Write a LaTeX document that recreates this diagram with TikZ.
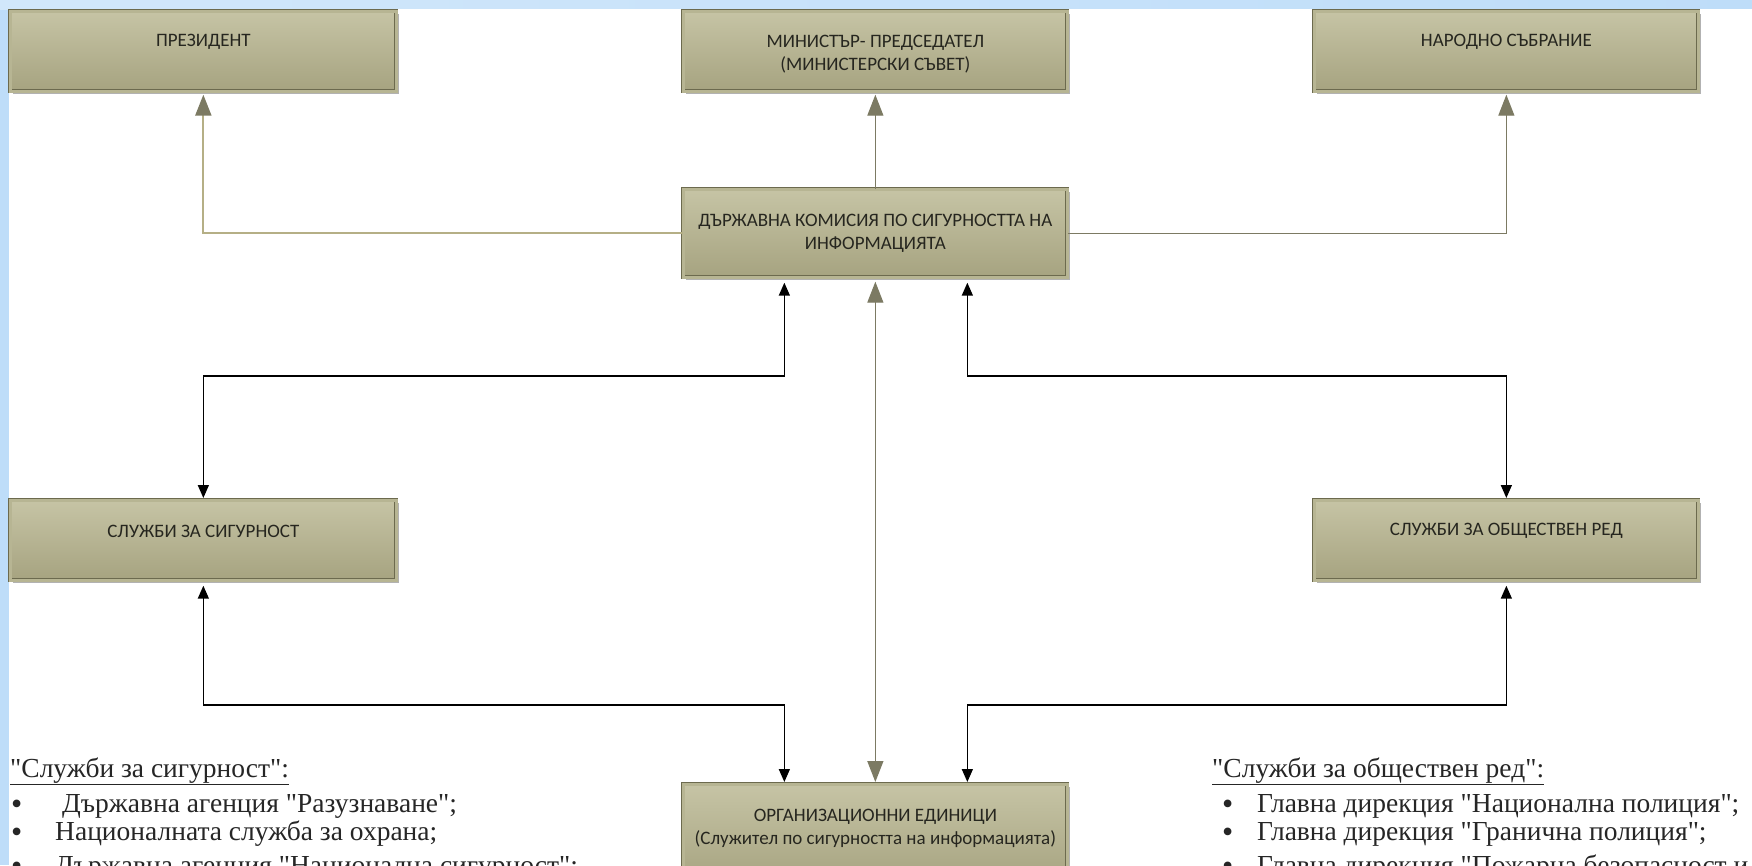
\documentclass[tikz,border=0pt]{standalone}
\usepackage{fontspec}
\setmainfont{Liberation Serif}[Ligatures=TeXOff]
\newfontfamily\boxfont{Carlito}
\usetikzlibrary{arrows.meta,shadows}

\definecolor{bluebg}{HTML}{BEDDF9}
\definecolor{olivetop}{HTML}{C6C4A5}
\definecolor{olivebot}{HTML}{A6A380}
\definecolor{oliveline}{HTML}{6C6A4E}
\definecolor{olivemid}{HTML}{B7B593}
\definecolor{graylink}{HTML}{7C7A63}
\definecolor{tanlink}{HTML}{B5AF86}
\definecolor{boxtextcol}{HTML}{26261F}

\begin{document}
\begin{tikzpicture}[x=1pt,y=-1pt,
  orgbox/.style={rectangle, anchor=north west, inner sep=0pt,
    minimum width=384pt, minimum height=80pt,
    top color=olivetop, bottom color=olivebot,
    draw=oliveline, line width=0.7pt, double=olivemid, double distance=2.4pt,
    drop shadow={shadow xshift=3pt, shadow yshift=-3pt, fill=black, opacity=0.3}},
  boxtext/.style={inner sep=0pt, align=center, text=boxtextcol,
    font=\boxfont\fontsize{19}{23}\selectfont},
  listtext/.style={inner sep=0pt, anchor=base west, text=black!85,
    font=\fontsize{27.5}{30}\selectfont},
  bullet/.style={inner sep=0pt, anchor=base west, text=black!85,
    text height=12pt, text depth=0pt, font=\fontsize{32}{30}\selectfont},
  graylnk/.style={draw=graylink, line width=1.3pt},
  grayhead/.style={-{Triangle[length=21pt,width=16pt,color=graylink]}},
  blacklnk/.style={draw=black, line width=1.5pt,
    {Triangle[length=13pt,width=11pt]}-{Triangle[length=13pt,width=11pt]}},
]
\useasboundingbox (0,0) rectangle (1752,865);
\clip (0,0) rectangle (1752,865);

% background
\fill[bluebg] (0,0) rectangle (1752,865);
\shade[left color=bluebg!70!white, right color=bluebg] (0,0) rectangle (1752,9);
\fill[white] (9,9) rectangle (1752,865);

% boxes
\node[orgbox, minimum width=386pt] (pres) at (10,11) {};
\node[orgbox] (pm) at (683,11) {};
\node[orgbox] (ns) at (1314,11) {};
\node[orgbox, minimum height=88pt] (dksi) at (683,189) {};
\node[orgbox, minimum width=386pt] (ss) at (10,500) {};
\node[orgbox] (so) at (1314,500) {};
\node[orgbox, minimum height=100pt] (org) at (683,784) {};

% box texts
\node[boxtext, yshift=-31pt] (presT) at (pres.north) {ПРЕЗИДЕНТ};
\node[boxtext, yshift=-43pt] (pmT) at (pm.north) {МИНИСТЪР- ПРЕДСЕДАТЕЛ\\(МИНИСТЕРСКИ СЪВЕТ)};
\node[boxtext, yshift=-31pt] (nsT) at (ns.north) {НАРОДНО СЪБРАНИЕ};
\node[boxtext, yshift=-44pt] (dksiT) at (dksi.north) {ДЪРЖАВНА КОМИСИЯ ПО СИГУРНОСТТА НА\\ИНФОРМАЦИЯТА};
\node[boxtext, yshift=-31pt] (ssT) at (ss.north) {СЛУЖБИ ЗА СИГУРНОСТ};
\node[boxtext, yshift=-31pt] (soT) at (so.north) {СЛУЖБИ ЗА ОБЩЕСТВЕН РЕД};
\node[boxtext, yshift=-44pt] (orgT) at (org.north) {ОРГАНИЗАЦИОННИ ЕДИНИЦИ\\(Служител по сигурността на информацията)};

% level coordinates
\coordinate (lvlA) at (0,376);
\coordinate (lvlB) at (0,705);
\coordinate (dL) at ([xshift=-91pt]dksi.south);
\coordinate (dR) at ([xshift=92pt]dksi.south);
\coordinate (oL) at ([xshift=-91pt]org.north);
\coordinate (oR) at ([xshift=92pt]org.north);

% upper (olive) connectors
\draw[draw=tanlink, line width=2.2pt, grayhead, shorten >=3pt] (dksi.west) -| (pres.south);
\draw[graylnk, grayhead, shorten >=3pt] (dksi.north) -- (pm.south);
\draw[graylnk, grayhead, shorten >=3pt] (dksi.east) -| (ns.south);
\draw[graylnk, {Triangle[length=21pt,width=16pt,color=graylink]}-{Triangle[length=21pt,width=16pt,color=graylink]}, shorten <=4pt, shorten >=2pt] (dksi.south) -- (org.north);

% black connectors
\draw[blacklnk, shorten <=5pt, shorten >=2pt] (dL) -- (dL |- lvlA) -| (ss.north);
\draw[blacklnk, shorten <=5pt, shorten >=2pt] (dR) -- (dR |- lvlA) -| (so.north);
\draw[blacklnk, shorten <=5pt, shorten >=2pt] (ss.south) -- (ss.south |- lvlB) -| (oL);
\draw[blacklnk, shorten <=5pt, shorten >=2pt] (so.south) -- (so.south |- lvlB) -| (oR);

% left list
\node[listtext] (lh) at (10,777) {\underline{"Служби за сигурност":}};
\node[bullet] (lb1) at (11,814) {•};
\node[listtext] (lt1) at (62,812) {Държавна агенция "Разузнаване";};
\node[bullet] (lb2) at (11,842) {•};
\node[listtext] (lt2) at (55,840) {Националната служба за охрана;};
\node[bullet] (lb3) at (11,876) {•};
\node[listtext] (lt3) at (55,874) {Държавна агенция "Национална сигурност";};

% right list
\node[listtext] (rh) at (1212,777) {\underline{"Служби за обществен ред":}};
\node[bullet] (rb1) at (1222,814) {•};
\node[listtext] (rt1) at (1257,812) {Главна дирекция "Национална полиция";};
\node[bullet] (rb2) at (1222,842) {•};
\node[listtext] (rt2) at (1257,840) {Главна дирекция "Гранична полиция";};
\node[bullet] (rb3) at (1222,876) {•};
\node[listtext] (rt3) at (1257,874) {Главна дирекция "Пожарна безопасност и защита на населението";};
\end{tikzpicture}
\end{document}
